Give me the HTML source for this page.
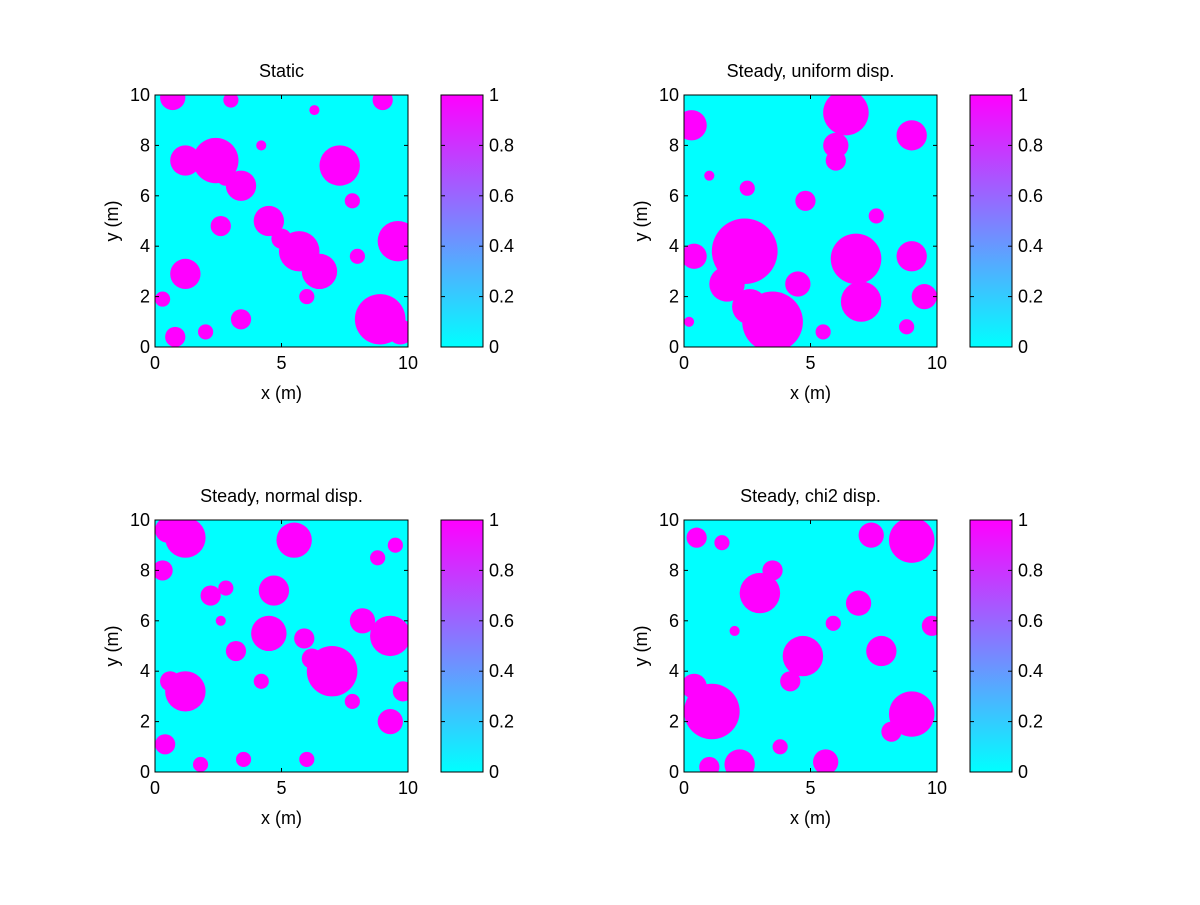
<!DOCTYPE html>
<html><head><meta charset="utf-8"><style>
body{margin:0;background:#fff;font-family:"Liberation Sans",sans-serif}
svg text{font-family:"Liberation Sans",sans-serif;font-size:18px;fill:#000}
</style></head><body>
<svg id="fig" width="1200" height="900" viewBox="0 0 1200 900" xmlns="http://www.w3.org/2000/svg">
<defs><linearGradient id="cool" x1="0" y1="1" x2="0" y2="0"><stop offset="0" stop-color="#00ffff"/><stop offset="1" stop-color="#ff00ff"/></linearGradient></defs>
</svg>
<script>
const xTicks=[0,5,10];
const yTicks=[0,2,4,6,8,10];
const cbTicks=[0,0.2,0.4,0.6,0.8,1];
const cbTickLabels=["0","0.2","0.4","0.6","0.8","1"];
const titles=["Static","Steady, uniform disp.","Steady, normal disp.","Steady, chi2 disp."];
// blobs: [x, y, radius] in metres
const blobsStatic=[[0.7,9.9,0.5],[3.0,9.8,0.3],[9.0,9.8,0.4],[2.4,7.4,0.9],[1.2,7.4,0.6],[3.4,6.4,0.6],[7.3,7.2,0.8],[4.5,5.0,0.6],[5.7,3.8,0.8],[6.5,3.0,0.7],[9.6,4.2,0.8],[1.2,2.9,0.6],[8.9,1.1,1.0],[9.7,0.6,0.5],[3.4,1.1,0.4],[0.8,0.4,0.4],[2.6,4.8,0.4],[2.8,6.8,0.4],[5.0,4.3,0.4],[8.0,3.6,0.3],[0.3,1.9,0.3],[2.0,0.6,0.3],[6.0,2.0,0.3],[7.8,5.8,0.3],[4.2,8.0,0.2],[6.3,9.4,0.2]];
const blobsUniform=[[0.3,8.8,0.6],[6.4,9.3,0.9],[6.0,8.0,0.5],[9.0,8.4,0.6],[6.0,7.4,0.4],[2.4,3.8,1.3],[1.7,2.5,0.7],[3.5,1.0,1.2],[2.6,1.6,0.7],[6.8,3.5,1.0],[7.0,1.8,0.8],[4.5,2.5,0.5],[9.0,3.6,0.6],[9.5,2.0,0.5],[0.4,3.6,0.5],[4.8,5.8,0.4],[7.6,5.2,0.3],[2.5,6.3,0.3],[5.5,0.6,0.3],[8.8,0.8,0.3],[1.0,6.8,0.2],[0.2,1.0,0.2]];
const blobsNormal=[[1.2,9.3,0.8],[0.5,9.6,0.5],[5.5,9.2,0.7],[0.3,8.0,0.4],[9.5,9.0,0.3],[8.8,8.5,0.3],[4.7,7.2,0.6],[4.5,5.5,0.7],[9.3,5.4,0.8],[8.2,6.0,0.5],[7.0,4.0,1.0],[6.2,4.5,0.4],[1.2,3.2,0.8],[0.6,3.6,0.4],[0.4,1.1,0.4],[9.3,2.0,0.5],[3.2,4.8,0.4],[5.9,5.3,0.4],[2.2,7.0,0.4],[2.8,7.3,0.3],[3.5,0.5,0.3],[6.0,0.5,0.3],[9.8,3.2,0.4],[4.2,3.6,0.3],[7.8,2.8,0.3],[2.6,6.0,0.2],[1.8,0.3,0.3]];
const blobsChi2=[[9.0,9.2,0.9],[7.4,9.4,0.5],[3.0,7.1,0.8],[3.5,8.0,0.4],[6.9,6.7,0.5],[4.7,4.6,0.8],[4.2,3.6,0.4],[7.8,4.8,0.6],[1.1,2.4,1.1],[0.4,3.4,0.5],[9.0,2.3,0.9],[8.2,1.6,0.4],[5.6,0.4,0.5],[2.2,0.3,0.6],[1.0,0.2,0.4],[0.5,9.3,0.4],[1.5,9.1,0.3],[9.8,5.8,0.4],[5.9,5.9,0.3],[3.8,1.0,0.3],[2.0,5.6,0.2]];
const panelBlobs=[blobsStatic,blobsUniform,blobsNormal,blobsChi2];
const panels=[[155,95],[684,95],[155,520],[684,520]];
const W=253,H=252,CBX=286,CBW=42;
const svg=document.getElementById('fig');
const NS='http://www.w3.org/2000/svg';
function mk(t,a,p){const e=document.createElementNS(NS,t);for(const k in a)e.setAttribute(k,a[k]);(p||svg).appendChild(e);return e;}
panels.forEach((p,i)=>{
  const [x0,y0]=p;
  const sx=v=>x0+v/10*W, sy=v=>y0+H-v/10*H, cy=v=>y0+H-v*H;
  const g=mk('g',{});
  
  
  const clip=mk('clipPath',{id:'c'+i},g);mk('rect',{x:x0,y:y0,width:W,height:H},clip);
  const bg=mk('rect',{x:x0,y:y0,width:W,height:H,fill:'#00ffff'},g);
  
  
  const bl=mk('g',{'clip-path':'url(#c'+i+')'},g);
  panelBlobs[i].forEach(b=>{
    const c=mk('ellipse',{cx:sx(b[0]),cy:sy(b[1]),rx:b[2]/10*W,ry:b[2]/10*H,fill:'#ff00ff'},bl);
    
    
  });
  mk('rect',{x:x0,y:y0,width:W,height:H,fill:'none',stroke:'#000','stroke-width':1},g);
  xTicks.forEach(t=>{const x=sx(t);mk('line',{x1:x,y1:y0+H,x2:x,y2:y0+H-4,stroke:'#000'},g);mk('line',{x1:x,y1:y0,x2:x,y2:y0+4,stroke:'#000'},g);
    const tx=mk('text',{x:x,y:y0+H+22,'text-anchor':'middle'},g);tx.textContent=t;
    
    });
  yTicks.forEach(t=>{const y=sy(t);mk('line',{x1:x0,y1:y,x2:x0+4,y2:y,stroke:'#000'},g);mk('line',{x1:x0+W,y1:y,x2:x0+W-4,y2:y,stroke:'#000'},g);
    const tx=mk('text',{x:x0-5,y:y+6,'text-anchor':'end'},g);tx.textContent=t;
    
    });
  const xt=mk('text',{x:x0+W/2,y:y0+H+52,'text-anchor':'middle'},g);xt.textContent='x (m)';
  
  
  const yt=mk('text',{x:0,y:0,'text-anchor':'middle',transform:`translate(${x0-37},${y0+H/2}) rotate(-90)`},g);yt.textContent='y (m)';
  
  
  const tt=mk('text',{x:x0+W/2,y:y0-18,'text-anchor':'middle'},g);tt.textContent=titles[i];
  
  
  const cb=mk('rect',{x:x0+CBX,y:y0,width:CBW,height:H,fill:'url(#cool)',stroke:'#000'},g);
  
  
  cbTicks.forEach((t,j)=>{const y=cy(t);const xr=x0+CBX+CBW;
    mk('line',{x1:xr,y1:y,x2:xr-4,y2:y,stroke:'#000'},g);mk('line',{x1:x0+CBX,y1:y,x2:x0+CBX+4,y2:y,stroke:'#000'},g);
    const tx=mk('text',{x:xr+6,y:y+6},g);tx.textContent=cbTickLabels[j];
    
    });
});
</script>
</body></html>
